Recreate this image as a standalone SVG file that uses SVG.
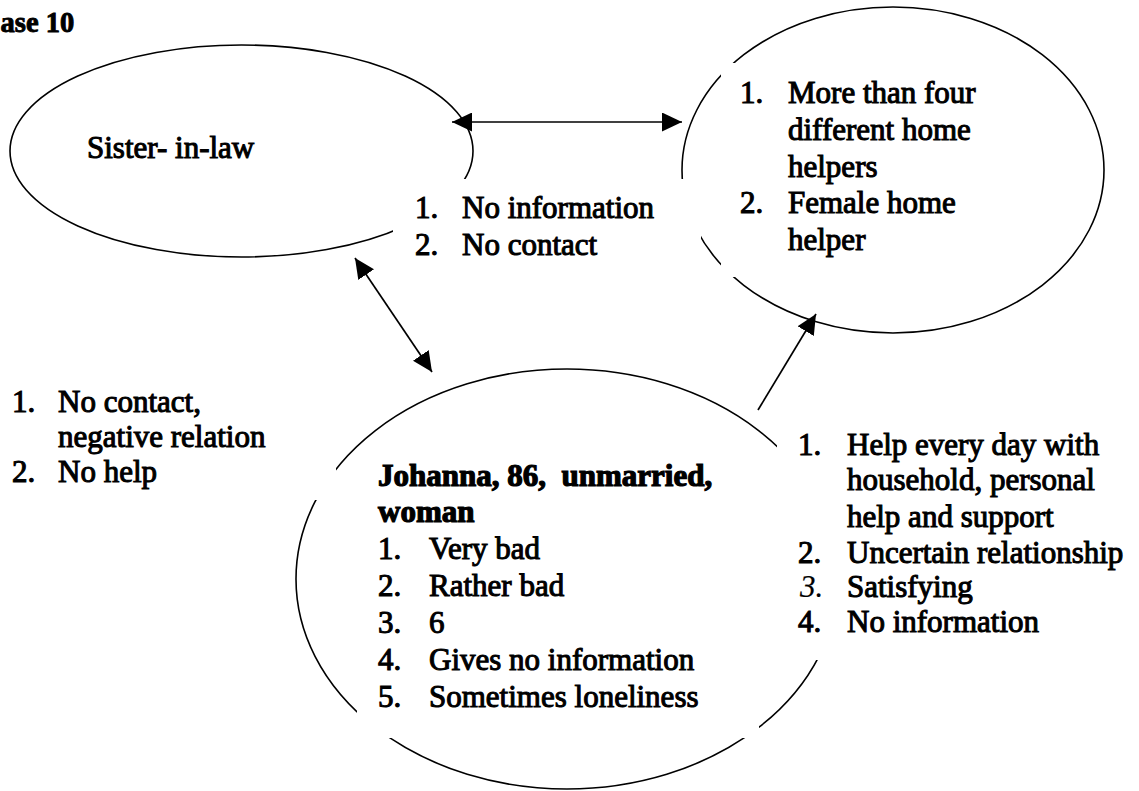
<svg xmlns="http://www.w3.org/2000/svg" width="1139" height="791" viewBox="0 0 1139 791">
  <style>
    .shape { fill: none; stroke: #000; stroke-width: 1.6; }
    .link { fill: none; stroke: #000; stroke-width: 1.7; }
    .pad { fill: #fff; stroke: none; }
    text { font-family: "Liberation Serif", "Times New Roman", serif; font-size: 31px; font-weight: normal; fill: #000; stroke: #000; stroke-width: 1.05; white-space: pre; }
    .title { font-size: 28.5px; font-weight: bold; stroke-width: 0.9; }
    .heavy { font-weight: bold; stroke-width: 1.2; }
    .ital { font-style: italic; stroke-width: 0.2; }
  </style>
  <defs>
    <marker id="head" markerUnits="userSpaceOnUse" markerWidth="20" markerHeight="19" refX="20" refY="9.5" orient="auto-start-reverse">
      <path d="M0,0 L20,9.5 L0,19 z" fill="#000"/>
    </marker>
  </defs>

  <rect width="1139" height="791" fill="#fff"/>

  <text class="title" x="-20" y="32">Case 10</text>

  <!-- sister-in-law -->
  <g id="node-sister">
    <ellipse class="shape" cx="241.5" cy="151" rx="231.5" ry="106"/>
    <text x="87" y="158">Sister- in-law</text>
  </g>

  <!-- home helpers -->
  <g id="node-helpers">
    <ellipse class="shape" cx="893" cy="170" rx="211" ry="163"/>
    <rect class="pad" x="721" y="63" width="280" height="214"/>
    <text x="740" y="103">1.</text><text x="788" y="103">More than four</text>
    <text x="788" y="140">different home</text>
    <text x="788" y="177">helpers</text>
    <text x="740" y="213">2.</text><text x="788" y="213">Female home</text>
    <text x="788" y="250">helper</text>
  </g>

  <!-- Johanna -->
  <g id="node-johanna">
    <ellipse class="shape" cx="567" cy="579" rx="271" ry="210"/>
    <rect class="pad" x="357" y="451" width="402" height="287"/>
    <text class="heavy" x="378" y="486">Johanna, 86,  unmarried,</text>
    <text class="heavy" x="378" y="522">woman</text>
    <text x="378" y="559">1.</text><text x="429" y="559">Very bad</text>
    <text x="378" y="596">2.</text><text x="429" y="596">Rather bad</text>
    <text x="378" y="633">3.</text><text x="429" y="633">6</text>
    <text x="378" y="670">4.</text><text x="429" y="670">Gives no information</text>
    <text x="378" y="707">5.</text><text x="429" y="707">Sometimes loneliness</text>
  </g>

  <!-- connectors -->
  <g id="connectors">
    <line class="link" x1="452" y1="122" x2="682" y2="122" marker-start="url(#head)" marker-end="url(#head)"/>
    <line class="link" x1="355" y1="258" x2="432" y2="372" marker-start="url(#head)" marker-end="url(#head)"/>
    <line class="link" x1="758" y1="410" x2="816" y2="314" marker-end="url(#head)"/>
  </g>

  <!-- relation labels -->
  <g id="label-sister-helpers">
    <rect class="pad" x="393" y="179" width="308" height="91"/>
    <text x="415" y="218">1.</text><text x="462" y="218">No information</text>
    <text x="415" y="255">2.</text><text x="462" y="255">No contact</text>
  </g>

  <g id="label-sister-johanna">
    <rect class="pad" x="0" y="385" width="336" height="115"/>
    <text x="12" y="412">1.</text><text x="58" y="412">No contact,</text>
    <text x="58" y="447">negative relation</text>
    <text x="12" y="482">2.</text><text x="58" y="482">No help</text>
  </g>

  <g id="label-johanna-helpers">
    <rect class="pad" x="777" y="425" width="362" height="235"/>
    <text x="798" y="455">1.</text><text x="847" y="455">Help every day with</text>
    <text x="847" y="490">household, personal</text>
    <text x="847" y="527">help and support</text>
    <text x="798" y="563">2.</text><text x="847" y="563">Uncertain relationship</text>
    <text class="ital" x="800" y="597">3.</text><text x="847" y="597">Satisfying</text>
    <text x="798" y="632">4.</text><text x="847" y="632">No information</text>
  </g>
</svg>
